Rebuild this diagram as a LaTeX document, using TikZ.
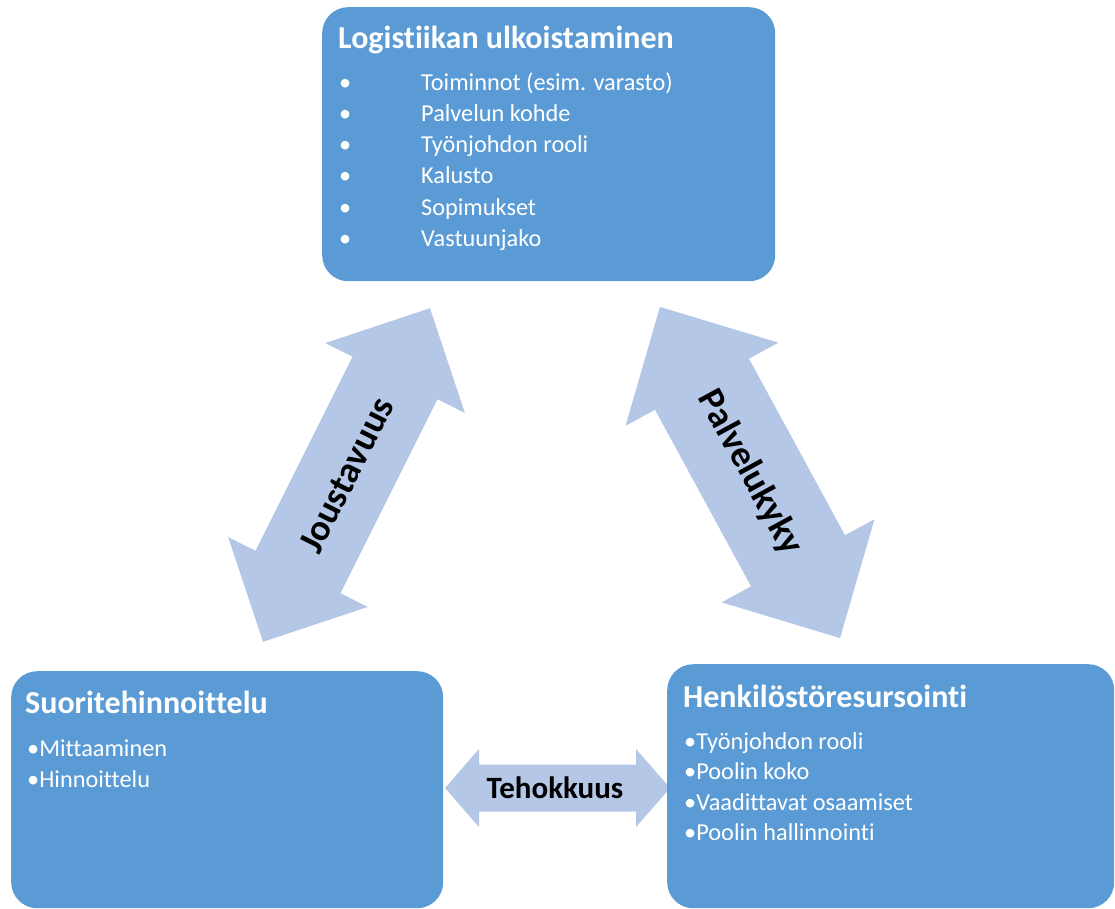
\documentclass[tikz,border=0pt]{standalone}
\usepackage{fontspec}
\setmainfont[Ligatures=NoCommon]{Carlito}
\definecolor{boxblue}{HTML}{5B9BD5}
\definecolor{arrowblue}{HTML}{B4C7E7}
\tikzset{
  box/.style={fill=boxblue, draw=none, rounded corners=26pt, inner sep=0pt, anchor=north west},
  ttl/.style={anchor=base west, inner sep=0pt, text=white, font=\fontsize{32}{38}\selectfont\bfseries},
  itm/.style={anchor=base west, inner sep=0pt, text=white, font=\fontsize{24.3}{29}\selectfont},
  lbl/.style={inner sep=0pt, text=black, font=\fontsize{37}{44}\selectfont\bfseries},
  lblsmall/.style={inner sep=0pt, text=black, font=\fontsize{31}{37}\selectfont\bfseries},
  arr/.style={fill=arrowblue, draw=none},
}
% double arrow polygon: #1 centre, #2 angle, #3 length, #4 head length, #5 head half width, #6 shaft half width, #7 name
\newcommand{\dblarrowshape}[7]{%
  \begin{scope}[shift={#1}, rotate=#2]
    \coordinate (#7A) at ({-#3/2},0);
    \coordinate (#7B) at ({#3/2},0);
    \fill[arr] (#7B) -- ({#3/2-#4},#5) -- ({#3/2-#4},#6) -- ({-#3/2+#4},#6) -- ({-#3/2+#4},#5)
      -- (#7A) -- ({-#3/2+#4},-#5) -- ({-#3/2+#4},-#6) -- ({#3/2-#4},-#6) -- ({#3/2-#4},-#5) -- cycle;
  \end{scope}}
\begin{document}
\begin{tikzpicture}[x=1pt, y=-1pt]
\useasboundingbox (0,0) rectangle (1115,909);

% arrows
\dblarrowshape{(346.5,475)}{63.43}{373}{78}{78}{47.5}{jo}
\dblarrowshape{(750,472.5)}{-61.46}{377}{88}{87}{53.5}{pa}
\dblarrowshape{(557.5,788)}{0}{225}{34}{39}{23.5}{te}

\node[lbl, rotate=63.43] (jtxt) at (346.5,475) {Joustavuus};
\node[lbl, rotate=-61.46] (ptxt) at (750,472.5) {Palvelukyky};
\node[lblsmall] (ttxt) at (555,788) {Tehokkuus};

% boxes
\node[box, minimum width=453pt, minimum height=274pt] (top) at (322,7) {};
\node[box, minimum width=432pt, minimum height=237pt] (left) at (11,671) {};
\node[box, minimum width=447pt, minimum height=244pt] (right) at (667,664) {};

% top box text
\node[ttl] (t0) at (338,49) {Logistiikan ulkoistaminen};
\foreach \y/\t [count=\i] in {91/Toiminnot (esim. varasto), 122/Palvelun kohde, 153/Työnjohdon rooli, 184/Kalusto, 215/Sopimukset, 246/Vastuunjako}{
  \node[itm] (tb\i) at (339,\y) {•};
  \node[itm] (ti\i) at (421,\y) {\t};
}

% left box text
\node[ttl] (l0) at (25,713) {Suoritehinnoittelu};
\node[itm] (l1) at (27,756) {•Mittaaminen};
\node[itm] (l2) at (27,787) {•Hinnoittelu};

% right box text
\node[ttl] (r0) at (683,707) {Henkilöstöresursointi};
\node[itm] (r1) at (684,749) {•Työnjohdon rooli};
\node[itm] (r2) at (684,779) {•Poolin koko};
\node[itm] (r3) at (684,810) {•Vaadittavat osaamiset};
\node[itm] (r4) at (684,840) {•Poolin hallinnointi};
\end{tikzpicture}
\end{document}
